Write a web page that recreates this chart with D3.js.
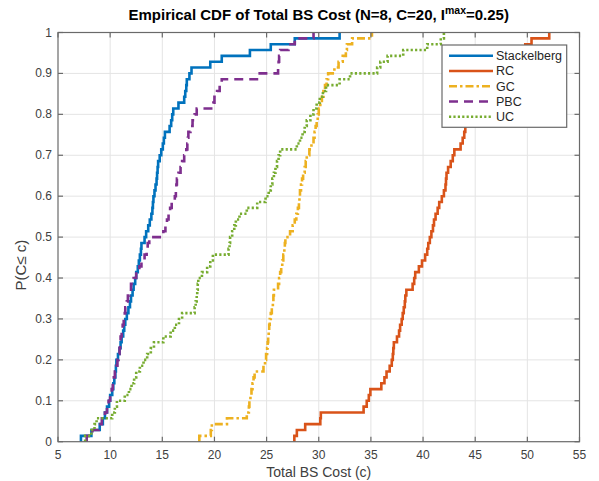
<!DOCTYPE html>
<html>
<head>
<meta charset="utf-8">
<script src="https://cdn.jsdelivr.net/npm/d3@7"></script>
<style>
  body { margin: 0; background: #fff; }
  svg { display: block; font-family: "Liberation Sans", Arial, sans-serif; }
</style>
</head>
<body>
<div id="chart"></div>
<script>
// Sorted sample costs (70 runs each)
const stackelberg = [7.2, 8.2, 9.0, 9.3, 9.5, 9.7, 9.9, 10.0, 10.2, 10.3,
    10.4, 10.5, 10.55, 10.6, 10.75, 10.9, 11.0, 11.1, 11.25, 11.35,
    11.45, 11.6, 11.75, 11.9, 12.0, 12.15, 12.25, 12.4, 12.5, 12.65,
    12.75, 12.85, 12.95, 13.0, 13.3, 13.45, 13.65, 13.8, 13.95, 14.05,
    14.1, 14.15, 14.25, 14.35, 14.45, 14.5, 14.55, 14.6, 14.75, 14.9,
    15.05, 15.15, 15.25, 15.7, 15.85, 15.95, 16.05, 16.55, 17.1, 17.2,
    17.3, 17.35, 17.6, 17.8, 19.6, 20.7, 23.4, 25.4, 27.7, 32.0];
const rc = [27.66, 27.9, 28.7, 30.15, 30.2, 34.3, 34.6, 34.8, 34.95, 36.0,
    36.3, 36.5, 36.8, 37.0, 37.1, 37.15, 37.2, 37.5, 37.7, 37.8,
    37.95, 38.05, 38.15, 38.25, 38.3, 38.4, 39.0, 39.15, 39.25, 39.6,
    39.9, 40.2, 40.4, 40.5, 40.65, 40.8, 40.95, 41.05, 41.2, 41.4,
    41.55, 41.8, 42.0, 42.15, 42.2, 42.25, 42.4, 42.65, 42.85, 43.0,
    43.6, 43.8, 43.95, 44.05, 44.15, 44.2, 44.4, 44.7, 45.1, 45.6,
    46.1, 46.6, 47.2, 47.8, 48.4, 49.0, 49.5, 49.8, 50.4, 52.1];
const gc = [18.55, 19.65, 19.75, 21.2, 23.1, 23.3, 23.35, 23.45, 23.55, 23.65,
    23.75, 23.85, 24.7, 24.85, 24.95, 25.05, 25.1, 25.15, 25.2, 25.25,
    25.3, 25.4, 25.5, 25.6, 25.65, 25.7, 26.1, 26.2, 26.3, 26.4,
    26.5, 26.6, 26.7, 26.75, 26.8, 27.25, 27.5, 27.7, 27.85, 28.0,
    28.1, 28.15, 28.2, 28.3, 28.4, 28.5, 28.65, 28.75, 28.85, 29.1,
    29.3, 29.5, 29.6, 29.7, 29.8, 29.9, 30.0, 30.15, 30.3, 30.45,
    30.6, 30.75, 30.9, 31.5, 31.9, 32.3, 32.6, 32.7, 33.2, 35.1];
const pbc = [7.75, 8.3, 8.9, 9.2, 9.5, 9.7, 9.85, 10.0, 10.15, 10.25,
    10.35, 10.45, 10.6, 10.7, 10.8, 10.9, 10.95, 11.0, 11.1, 11.2,
    11.3, 11.4, 11.45, 11.6, 11.7, 11.85, 12.0, 12.25, 12.5, 12.8,
    13.0, 13.3, 13.5, 13.6, 13.75, 15.1, 15.3, 15.45, 15.6, 15.75,
    15.9, 16.2, 16.3, 16.35, 16.4, 16.55, 16.75, 16.9, 17.1, 17.3,
    17.4, 17.45, 17.5, 17.7, 17.9, 18.1, 18.3, 19.9, 20.0, 20.25,
    20.5, 20.7, 24.2, 26.1, 26.15, 26.2, 26.3, 27.1, 27.7, 29.5];
const uc = [7.6, 8.2, 8.5, 8.7, 10.2, 10.45, 10.65, 11.4, 11.8, 12.05,
    12.3, 12.5, 12.85, 13.2, 13.55, 13.9, 14.2, 15.1, 15.8, 16.2,
    16.6, 16.9, 18.1, 18.2, 18.3, 18.35, 18.4, 18.45, 18.8, 19.3,
    19.6, 19.85, 21.35, 21.45, 21.5, 21.7, 21.9, 22.05, 22.4, 23.1,
    24.1, 24.9, 25.2, 25.4, 25.55, 25.7, 25.85, 26.0, 26.15, 26.3,
    27.9, 28.2, 28.45, 28.65, 28.85, 29.2, 29.5, 29.8, 30.1, 30.4,
    30.7, 32.0, 33.0, 35.6, 35.9, 36.6, 38.1, 40.4, 41.7, 42.0];

const seriesNames = ['Stackelberg', 'RC', 'GC', 'PBC', 'UC'];
const seriesData = [stackelberg, rc, gc, pbc, uc];
const xTicks = [5, 10, 15, 20, 25, 30, 35, 40, 45, 50, 55];
const yTicks = [0, 0.1, 0.2, 0.3, 0.4, 0.5, 0.6, 0.7, 0.8, 0.9, 1];

// MATLAB default line colours and styles
const colours = ['#0072bd', '#d95319', '#edb120', '#7e2f8e', '#77ac30'];
const dashes = [null, null, '8,3,2.5,3', '9,6', '2.2,2.2'];

const width = 599, height = 481;
const margin = { top: 32.5, right: 19.5, bottom: 39.3, left: 58 };

const svg = d3.select('#chart').append('svg')
    .attr('width', width)
    .attr('height', height);

const x = d3.scaleLinear().domain([5, 55]).range([margin.left, width - margin.right]);
const y = d3.scaleLinear().domain([0, 1]).range([height - margin.bottom, margin.top]);

// grid
svg.append('g')
    .attr('stroke', '#e4e4e4')
    .attr('stroke-width', 1)
    .selectAll('line.gx')
    .data(xTicks.slice(1, -1))
    .join('line')
    .attr('x1', d => x(d)).attr('x2', d => x(d))
    .attr('y1', y(0)).attr('y2', y(1));
svg.append('g')
    .attr('stroke', '#e4e4e4')
    .attr('stroke-width', 1)
    .selectAll('line.gy')
    .data(yTicks.slice(1, -1))
    .join('line')
    .attr('y1', d => y(d)).attr('y2', d => y(d))
    .attr('x1', x(5)).attr('x2', x(55));

// ECDF steps: start at (x1, 0), step up 1/n at each sorted sample
function ecdfPoints(values) {
    const sorted = values.slice().sort((a, b) => a - b);
    const n = sorted.length;
    const pts = [[sorted[0], 0]];
    sorted.forEach((v, i) => pts.push([v, (i + 1) / n]));
    return pts;
}

const line = d3.line()
    .x(d => x(d[0]))
    .y(d => y(d[1]))
    .curve(d3.curveStepAfter);

svg.append('g')
    .attr('fill', 'none')
    .selectAll('path')
    .data(seriesData)
    .join('path')
    .attr('d', d => line(ecdfPoints(d)))
    .attr('stroke', (d, i) => colours[i])
    .attr('stroke-width', 2.6)
    .attr('stroke-dasharray', (d, i) => dashes[i]);

// axes box with inward ticks on all four sides
const axisColour = '#6a6a6a';
const tickLen = 5;
const axes = svg.append('g').attr('stroke', axisColour).attr('stroke-width', 1.2);
axes.append('rect')
    .attr('x', x(5)).attr('y', y(1))
    .attr('width', x(55) - x(5)).attr('height', y(0) - y(1))
    .attr('fill', 'none');
axes.selectAll('line.xb').data(xTicks).join('line')
    .attr('x1', d => x(d)).attr('x2', d => x(d))
    .attr('y1', y(0)).attr('y2', y(0) - tickLen);
axes.selectAll('line.xt').data(xTicks).join('line')
    .attr('x1', d => x(d)).attr('x2', d => x(d))
    .attr('y1', y(1)).attr('y2', y(1) + tickLen);
axes.selectAll('line.yl').data(yTicks).join('line')
    .attr('y1', d => y(d)).attr('y2', d => y(d))
    .attr('x1', x(5)).attr('x2', x(5) + tickLen);
axes.selectAll('line.yr').data(yTicks).join('line')
    .attr('y1', d => y(d)).attr('y2', d => y(d))
    .attr('x1', x(55)).attr('x2', x(55) - tickLen);

// tick labels
svg.append('g')
    .attr('font-size', 12)
    .attr('fill', '#404040')
    .attr('text-anchor', 'middle')
    .selectAll('text')
    .data(xTicks)
    .join('text')
    .attr('x', d => x(d))
    .attr('y', y(0) + 17)
    .text(d => d);
svg.append('g')
    .attr('font-size', 12)
    .attr('fill', '#404040')
    .attr('text-anchor', 'end')
    .selectAll('text')
    .data(yTicks)
    .join('text')
    .attr('x', x(5) - 6)
    .attr('y', d => y(d) + 4)
    .text(d => d3.format('~g')(d));

// title
const title = svg.append('text')
    .attr('x', (x(5) + x(55)) / 2)
    .attr('y', 20)
    .attr('text-anchor', 'middle')
    .attr('font-size', 15)
    .attr('font-weight', 'bold')
    .attr('fill', '#000');
title.append('tspan').text('Empirical CDF of Total BS Cost (N=8, C=20, I');
title.append('tspan').attr('font-size', 10.5).attr('dy', -6).text('max');
title.append('tspan').attr('dy', 6).text('=0.25)');

// axis labels
svg.append('text')
    .attr('x', (x(5) + x(55)) / 2)
    .attr('y', 477)
    .attr('text-anchor', 'middle')
    .attr('font-size', 14)
    .attr('fill', '#404040')
    .text('Total BS Cost (c)');
svg.append('text')
    .attr('transform', `translate(26,${(y(0) + y(1)) / 2 + 28}) rotate(-90)`)
    .attr('text-anchor', 'middle')
    .attr('font-size', 15)
    .attr('fill', '#404040')
    .text('P(C\u2264 c)');

// legend
const legend = svg.append('g');
legend.append('rect')
    .attr('x', 442).attr('y', 45)
    .attr('width', 124.7).attr('height', 82.3)
    .attr('fill', '#fff')
    .attr('stroke', axisColour)
    .attr('stroke-width', 1.2);
const rows = legend.selectAll('g.row')
    .data(seriesNames)
    .join('g')
    .attr('transform', (d, i) => `translate(0,${55.7 + i * 15.25})`);
rows.append('line')
    .attr('x1', 449).attr('x2', 493)
    .attr('stroke', (d, i) => colours[i])
    .attr('stroke-width', 2.6)
    .attr('stroke-dasharray', (d, i) => dashes[i]);
rows.append('text')
    .attr('x', 496)
    .attr('y', 4.5)
    .attr('font-size', 12.5)
    .attr('fill', '#262626')
    .text(d => d);
</script>
</body>
</html>
